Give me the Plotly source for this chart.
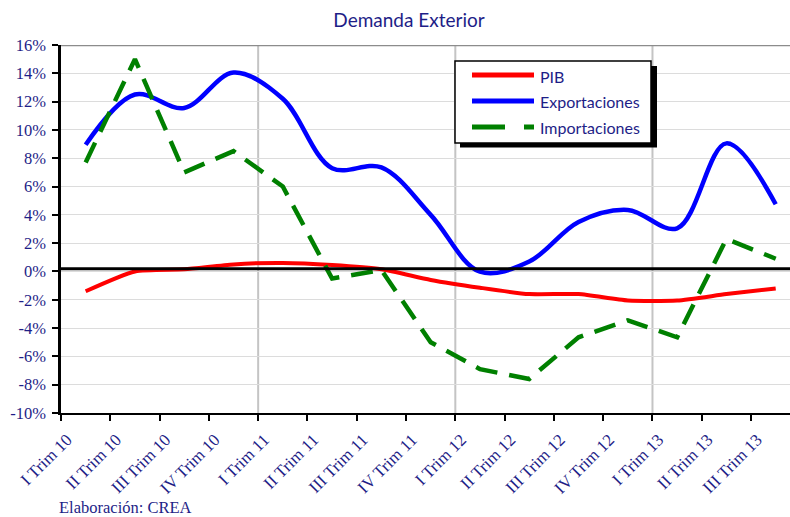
import plotly.graph_objects as go

# ---- data ----
categories = ["I Trim 10", "II Trim 10", "III Trim 10", "IV Trim 10",
              "I Trim 11", "II Trim 11", "III Trim 11", "IV Trim 11",
              "I Trim 12", "II Trim 12", "III Trim 12", "IV Trim 12",
              "I Trim 13", "II Trim 13", "III Trim 13"]
pib = [-1.4, 0.0, 0.15, 0.5, 0.6, 0.45, 0.15, -0.6, -1.15, -1.6, -1.6, -2.05, -2.05, -1.6, -1.2]
exportaciones = [8.95, 12.5, 11.55, 14.05, 12.2, 7.3, 7.35, 4.0, -0.02, 0.7, 3.5, 4.35, 3.05, 9.05, 4.75]
importaciones = [7.7, 15.0, 7.0, 8.5, 6.0, -0.5, 0.1, -5.0, -6.9, -7.6, -4.65, -3.45, -4.65, 2.3, 0.9]
series_names = ["PIB", "Exportaciones", "Importaciones"]
series_colors = ["#ff0000", "#0000ff", "#008000"]
y_ticks = list(range(-10, 17, 2))
year_starts = [4, 8, 12]          # category boundaries of I Trim 11/12/13
reference_level = 0.2

NAVY = "#1e1e87"
SERIF = "Liberation Serif"
SANS = "Lato"
x_pos = [i + 0.5 for i in range(len(categories))]
tick_pos = list(range(len(categories)))

line_styles = [
    dict(color=series_colors[0], width=4, shape="spline", smoothing=0.6),
    dict(color=series_colors[1], width=4.5, shape="spline", smoothing=1.0),
    dict(color=series_colors[2], width=4.5, dash="22px,12px"),
]
fig = go.Figure()
for name, vals, ls in zip(series_names, [pib, exportaciones, importaciones], line_styles):
    fig.add_trace(go.Scatter(x=x_pos, y=vals, name=name, mode="lines", line=ls, showlegend=False))

L, T, PW, PH = 61, 45, 729, 368
def px_x(v): return (v - L) / PW
def px_y(v): return (T + PH - v) / PH

shapes = []
for xs in year_starts:
    shapes.append(dict(type="line", xref="x", yref="paper", x0=xs, x1=xs, y0=0, y1=1,
                       line=dict(color="#c4c4c4", width=2), layer="below"))
shapes.append(dict(type="line", xref="paper", yref="y", x0=0, x1=1, y0=y_ticks[-1], y1=y_ticks[-1],
                   line=dict(color="#8c8c8c", width=2.5), layer="above"))
shapes.append(dict(type="line", xref="paper", yref="y", x0=0, x1=1, y0=reference_level, y1=reference_level,
                   line=dict(color="#000000", width=3), layer="above"))
# legend box with shadow
shapes.append(dict(type="rect", xref="paper", yref="paper",
                   x0=px_x(460), x1=px_x(657), y0=px_y(147.5), y1=px_y(66),
                   fillcolor="black", line=dict(width=0), layer="above"))
shapes.append(dict(type="rect", xref="paper", yref="paper",
                   x0=px_x(455), x1=px_x(651), y0=px_y(143), y1=px_y(61),
                   fillcolor="white", line=dict(color="black", width=1.5), layer="above"))
annotations = []
legend_rows = [75, 101, 127]
legend_dash = [None, None, "33px,19px"]
for name, color, row, dash in zip(series_names, series_colors, legend_rows, legend_dash):
    ln = dict(color=color, width=5)
    if dash:
        ln["dash"] = dash
    shapes.append(dict(type="line", xref="paper", yref="paper",
                       x0=px_x(472), x1=px_x(534), y0=px_y(row), y1=px_y(row),
                       line=ln, layer="above"))
    annotations.append(dict(text=name, xref="paper", yref="paper", x=px_x(538), y=px_y(row + 1),
                            xanchor="left", yanchor="middle", showarrow=False,
                            font=dict(family=SANS, size=16, color=NAVY)))
annotations.append(dict(text="Elaboración: CREA", xref="paper", yref="paper",
                        x=px_x(57), y=px_y(507), xanchor="left", yanchor="middle", showarrow=False,
                        font=dict(family=SERIF, size=16.5, color=NAVY)))

fig.update_layout(
    width=790, height=517,
    margin=dict(l=L, r=0, t=T, b=517 - T - PH, pad=0, autoexpand=False),
    paper_bgcolor="white", plot_bgcolor="white",
    title=dict(text="Demanda Exterior", x=409 / 790, xanchor="center", y=1 - 20 / 517, yanchor="middle",
               font=dict(family=SANS, size=19, color=NAVY), automargin=False),
    showlegend=False,
    shapes=shapes,
    annotations=annotations,
)
fig.update_xaxes(range=[0, (790 - L) / 49.29], tickmode="array", tickvals=tick_pos, ticktext=categories,
                 tickangle=-45, ticks="outside", ticklen=6, tickwidth=2, tickcolor="black",
                 showline=True, linecolor="black", linewidth=2, showgrid=False, zeroline=False,
                 automargin=False, ticklabelshift=6, ticklabelstandoff=2,
                 tickfont=dict(family=SERIF, size=17, color=NAVY))
fig.update_yaxes(range=[-10, 16], tickmode="array", tickvals=y_ticks,
                 ticktext=[f"{v}%" for v in y_ticks],
                 ticks="outside", ticklen=6, tickwidth=2, tickcolor="black",
                 showline=True, linecolor="black", linewidth=2.5,
                 showgrid=True, gridcolor="#dcdcdc", gridwidth=1, zeroline=False,
                 ticklabelstandoff=3, automargin=False,
                 tickfont=dict(family=SERIF, size=16.5, color=NAVY))

fig.write_html("out.html", config={"displayModeBar": False},
               post_script="document.body.style.margin='0';")
